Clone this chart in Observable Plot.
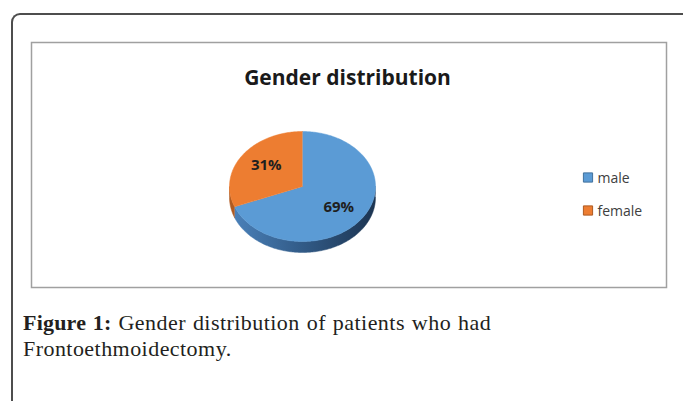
<!DOCTYPE html>
<html>
<head>
<meta charset="utf-8">
<script src="https://cdn.jsdelivr.net/npm/d3@7"></script>
<script src="https://cdn.jsdelivr.net/npm/@observablehq/plot@0.6"></script>
<style>
  html, body { margin: 0; padding: 0; background: #fff; }
  #page { position: relative; width: 683px; height: 401px; overflow: hidden; background: #fff; }
  #outer { position: absolute; left: 11px; top: 13px; width: 690px; height: 420px;
           border-left: 2px solid #4d4d4d; border-top: 2px solid #4d4d4d;
           border-top-left-radius: 9px; box-sizing: border-box; }
  #chart { position: absolute; left: 0; top: 0; }
  #caption { position: absolute; left: 23px; top: 310px; width: 620px; white-space: nowrap;
             font-family: "Liberation Serif", serif; font-size: 22px; line-height: 26px;
             letter-spacing: 0.45px; word-spacing: 1px; color: #231f20; }
  #caption b { font-weight: bold; letter-spacing: 0.2px; }
</style>
</head>
<body>
<div id="page">
  <div id="outer"></div>
  <div id="chart"></div>
  <div id="caption"><b>Figure 1:</b> Gender distribution of patients who had<br>Frontoethmoidectomy.</div>
</div>
<script>
// ---- data ----
const title = "Gender distribution";
const categories = ["male", "female"];
const percents = [69, 31];

// ---- styles ----
const topColors = {male: "#5b9bd5", female: "#ed7d31"};
const edgeColors = {male: "#41719c", female: "#ae5a21"};
const sideColors = {male: "url(#sideMale)", female: "#b05a20"};

// ---- pie geometry (pixels) ----
const CX = 302, CY = 186, RX = 73, RY = 55, DEPTH = 11;
const total = d3.sum(percents);
let acc = 0;
const slices = categories.map((c, i) => {
  const a0 = acc, a1 = acc + percents[i] / total * 360;
  acc = a1;
  return {cat: c, a0, a1, pct: percents[i]};
});
function rim(a, dy = 0) {
  const r = a * Math.PI / 180;
  return {x: CX + RX * Math.sin(r), y: CY - RY * Math.cos(r) + dy};
}
const topPts = [];
for (const s of slices) {
  topPts.push({cat: s.cat, x: CX, y: CY});
  for (let a = s.a0; a < s.a1; a += 1) topPts.push({cat: s.cat, ...rim(a)});
  topPts.push({cat: s.cat, ...rim(s.a1)});
}
const sidePts = [];
for (const s of slices) {
  const lo = Math.max(s.a0, 90), hi = Math.min(s.a1, 270);
  if (lo >= hi) continue;
  const arc = [];
  for (let a = lo; a < hi; a += 1) arc.push(a);
  arc.push(hi);
  for (const a of arc) sidePts.push({cat: s.cat, ...rim(a)});
  for (const a of arc.slice().reverse()) sidePts.push({cat: s.cat, ...rim(a, DEPTH)});
}
const labels = slices.map(s => {
  const m = (s.a0 + s.a1) / 2 * Math.PI / 180;
  return {text: s.pct + "%", x: CX + RX * 0.6 * Math.sin(m), y: CY - RY * 0.68 * Math.cos(m)};
});
const legend = categories.map((c, i) => ({cat: c, x: 587.5, y: 177 + i * 33}));

const chart = Plot.plot({
  width: 683, height: 401,
  marginTop: 42, marginLeft: 31, marginRight: 17, marginBottom: 114,
  x: {domain: [0, 683], range: [0, 683], axis: null},
  y: {domain: [0, 401], range: [0, 401], axis: null},
  style: {background: "transparent", overflow: "visible"},
  marks: [
    Plot.frame({stroke: "#a0a0a0", strokeWidth: 1.5}),
    Plot.text([title], {x: 347, y: 78, text: d => d, fontFamily: "Open Sans", fontWeight: "bold",
      fontSize: 21, fill: "#1a1a1a"}),
    ...categories.map(c => Plot.line(sidePts.filter(d => d.cat === c),
      {x: "x", y: "y", fill: sideColors[c], stroke: sideColors[c], strokeWidth: 0.5, curve: "linear"})),
    ...categories.map(c => Plot.line(topPts.filter(d => d.cat === c),
      {x: "x", y: "y", fill: topColors[c], stroke: topColors[c], strokeWidth: 0.5, curve: "linear"})),
    Plot.text(labels, {x: "x", y: "y", text: "text", fontFamily: "Open Sans", fontWeight: "bold",
      fontSize: 15, fill: "#1f1f1f"}),
    ...categories.map((c, i) => Plot.dot([legend[i]], {x: "x", y: "y", symbol: "square", r: 5.2,
      fill: topColors[c], stroke: edgeColors[c], strokeWidth: 1})),
    Plot.text(legend, {x: d => d.x + 9.5, y: d => d.y + 1, text: "cat", textAnchor: "start",
      fontFamily: "Open Sans", fontSize: 14, fill: "#404040"})
  ]
});

const defs = d3.select(chart).insert("defs", ":first-child");
const g = defs.append("linearGradient").attr("id", "sideMale")
  .attr("x1", "0").attr("y1", "0").attr("x2", "1").attr("y2", "0");
g.append("stop").attr("offset", "0").attr("stop-color", "#4a80b8");
g.append("stop").attr("offset", "0.45").attr("stop-color", "#335d8a");
g.append("stop").attr("offset", "1").attr("stop-color", "#1c3451");

document.getElementById("chart").appendChild(chart);
</script>
</body>
</html>
